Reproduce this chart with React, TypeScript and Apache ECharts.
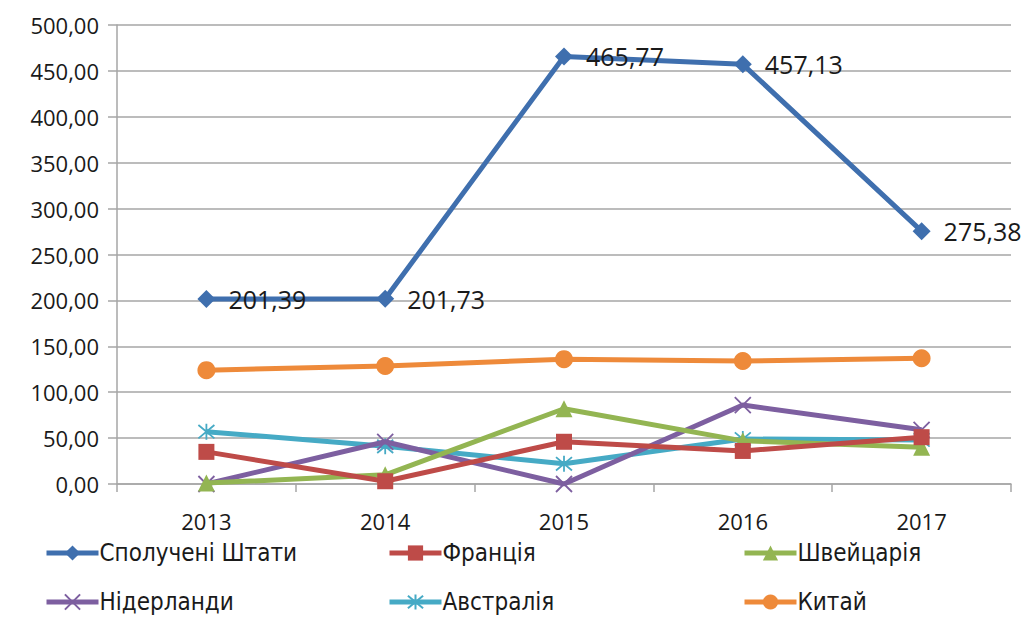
import React, { useEffect, useRef } from "react";
import * as echarts from "echarts";

const years = ["2013", "2014", "2015", "2016", "2017"];
const usa = [201.39, 201.73, 465.77, 457.13, 275.38];
const france = [35, 3, 46, 36, 51];
const swiss = [1, 10, 82, 47, 40];
const netherlands = [0, 46, 0, 86, 59];
const australia = [57, 41, 22, 49, 48];
const china = [124, 128.5, 136, 134, 137];

const names = ["Сполучені Штати", "Франція", "Швейцарія", "Нідерланди", "Австралія", "Китай"];
const colors = ["#3F6FAE", "#BE4B48", "#93B552", "#7D5FA0", "#46AAC5", "#EE8A3A"];

const FONT = "'Open Sans', sans-serif";
const fmt = (v: number) => v.toFixed(2).replace(".", ",");

export default function App() {
  const ref = useRef<HTMLDivElement>(null);
  useEffect(() => {
    if (!ref.current) return;
    const chart = echarts.init(ref.current, undefined, { renderer: "svg" });
    const xPath = "path://M0,0L10,10M10,0L0,10";
    const starPath = "path://M0,0L10,10M10,0L0,10M5,-1L5,11";
    const datas = [usa, france, swiss, netherlands, australia, china];
    const symbols = ["diamond", "rect", "triangle", xPath, starPath, "circle"];
    const sizes = [18, 16, 17, 16, 16, 18];
    const series = datas.map((d, i) => {
      const stroke = i === 3 || i === 4;
      return {
        name: names[i],
        type: "line",
        data: d,
        symbol: symbols[i],
        symbolSize: sizes[i],
        showAllSymbol: true,
        color: colors[i],
        lineStyle: { color: colors[i], width: 5 },
        itemStyle: stroke
          ? { color: "rgba(0,0,0,0)", borderColor: colors[i], borderWidth: 1.8 }
          : { color: colors[i] },
        z: 10 - i,
        label:
          i === 0
            ? {
                show: true,
                position: "right",
                distance: 13,
                formatter: (p: any) => fmt(p.value),
                fontFamily: FONT,
                fontSize: 25,
                color: "#1a1a1a",
              }
            : { show: false },
      };
    });
    const legendPos = [
      [42, 539],
      [385, 539],
      [740, 539],
      [42, 588],
      [385, 588],
      [740, 588],
    ];
    const legends = names.map((n, i) => ({
      data: [n],
      left: legendPos[i][0],
      top: legendPos[i][1],
      itemWidth: 52,
      itemHeight: 19,
      itemGap: 0,
      padding: 2,
      lineStyle: { width: 5 },
      textStyle: { fontFamily: "'DejaVu Sans Condensed', 'Liberation Sans Narrow', sans-serif", fontSize: 24, color: "#1a1a1a", padding: [0, 0, 0, -4] },
      selectedMode: false,
    }));
    chart.setOption({
      animation: false,
      backgroundColor: "#ffffff",
      grid: { left: 117, right: 14, top: 25, bottom: 135 },
      legend: legends,
      xAxis: {
        type: "category",
        data: years,
        boundaryGap: true,
        axisLine: { lineStyle: { color: "#A6A6A6", width: 1.5 } },
        axisTick: { show: true, length: 8, lineStyle: { color: "#A6A6A6", width: 1.5 } },
        axisLabel: { fontFamily: FONT, fontSize: 22, color: "#1a1a1a", margin: 26 },
      },
      yAxis: {
        type: "value",
        min: 0,
        max: 500,
        interval: 50,
        axisLine: { show: true, lineStyle: { color: "#A6A6A6", width: 1.5 } },
        axisTick: { show: true, length: 9, lineStyle: { color: "#A6A6A6", width: 1.5 } },
        splitLine: { lineStyle: { color: "#A6A6A6", width: 1.5 } },
        axisLabel: { fontFamily: FONT, fontSize: 22, color: "#1a1a1a", margin: 18, formatter: (v: number) => fmt(v) },
      },
      series,
    });
    return () => chart.dispose();
  }, []);
  return <div ref={ref} style={{ width: 1025, height: 619, position: "absolute", left: 0, top: 0 }} />;
}
